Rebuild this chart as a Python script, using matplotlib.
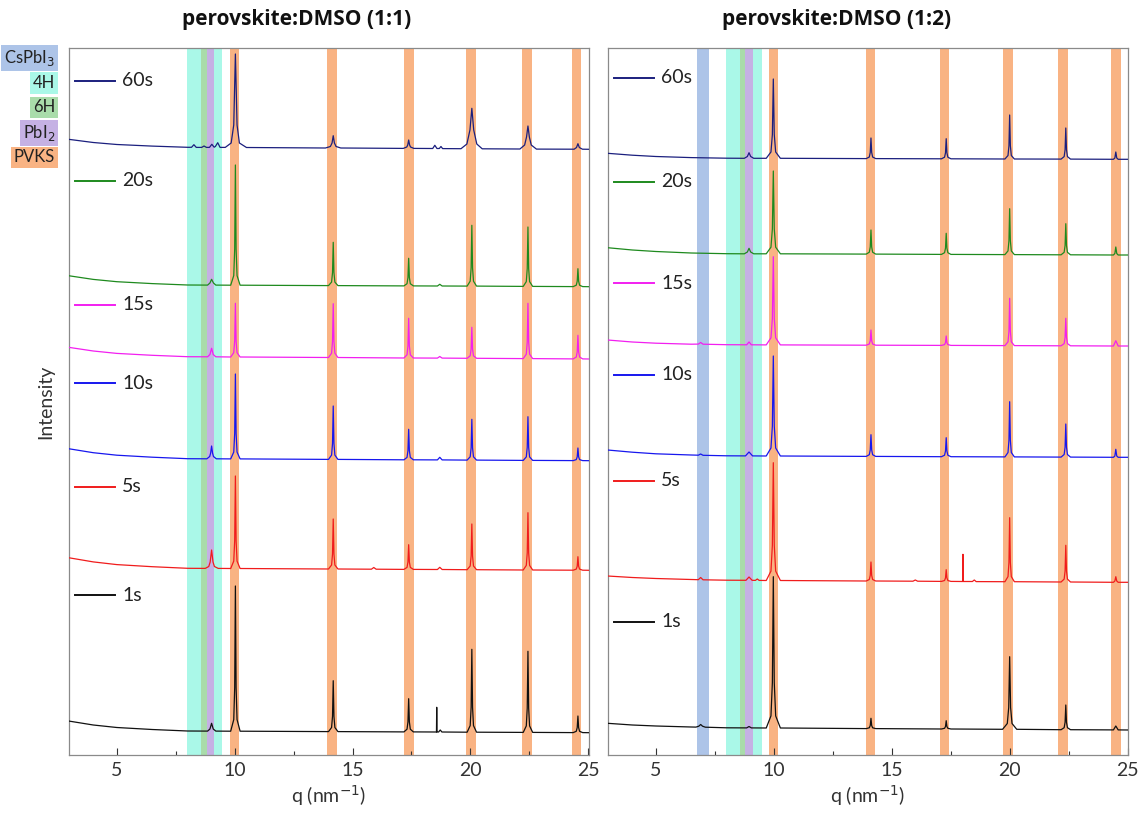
import matplotlib
matplotlib.use("Agg")
import matplotlib.pyplot as plt
import matplotlib.transforms as mtransforms

plt.rcParams['font.family'] = ['Lato', 'DejaVu Sans']

# ---------------- data (q in nm^-1, intensity in arbitrary units) ----------------
times = ["60s", "20s", "15s", "10s", "5s", "1s"]
colors = ["#1b1f7e", "#1e8a1e", "#f21ff0", "#1717ee", "#f01c1c", "#111111"]

# perovskite:DMSO (1:1)
left_60s = [(2.95,615.7),(4,612.5),(5,610.5),(6.5,608.9),(8.0,607.7),
    (8.17,607.7),(8.27,610.3),(8.37,607.6),(8.6,607.6),(8.7,609),(8.8,607.6),
    (8.93,607.6),(9.03,610.7),(9.13,607.8),(9.18,608.5),(9.28,612.3),(9.38,607.6),
    (9.6,607.6),(9.85,612),(9.96,630),(10.03,701),(10.10,630),(10.2,612),(10.5,607.5),
    (13.85,607),(14.06,608.5),(14.13,612),(14.18,619.3),(14.23,612),(14.3,608.5),(14.5,607),
    (17.15,606.6),(17.3,608),(17.34,610),(17.38,615),(17.42,610),(17.46,608),(17.6,606.6),
    (18.4,606.5),(18.49,609.7),(18.58,606.5),(18.68,606.5),(18.75,608.5),(18.82,606.4),
    (19.6,606.3),(19.85,611),(19.98,625),(20.06,646.7),(20.14,625),(20.27,611),(20.5,606.2),
    (22.1,606),(22.3,610),(22.38,618),(22.44,629),(22.5,618),(22.58,610),(22.8,605.9),
    (24.4,605.8),(24.5,607.5),(24.56,611.3),(24.62,607.5),(24.75,605.8),(25.05,605.7)]
left_20s = [(2.95,479.3),(4,475.6),(5,473.3),(6.5,471.4),(8.0,470),
    (8.85,469.9),(8.95,472),(9.02,475.7),(9.1,472),(9.2,469.9),
    (9.83,469.8),(9.96,479.4),(10.0,505.9),(10.03,590),(10.06,505.9),(10.1,479.4),(10.23,469.8),
    (13.98,469.4),(14.11,472.9),(14.15,482.4),(14.18,512.7),(14.21,482.4),(14.25,472.9),(14.38,469.4),
    (17.18,469.1),(17.31,471.3),(17.35,477.4),(17.38,496.7),(17.41,477.4),(17.45,471.3),(17.58,469.1),
    (18.6,469),(18.7,470.7),(18.8,469),
    (19.86,468.9),(19.99,473.8),(20.03,487.1),(20.06,529.7),(20.09,487.1),(20.13,473.8),(20.26,468.9),
    (22.24,468.6),(22.37,473.4),(22.41,486.4),(22.44,528),(22.47,486.4),(22.51,473.4),(22.64,468.6),
    (24.36,468.4),(24.49,469.8),(24.53,473.8),(24.56,486.3),(24.59,473.8),(24.63,469.8),(24.76,468.4),
    (25.05,468.3)]
left_15s = [(2.95,407.7),(4,404),(5,401.6),(6.5,399.7),(8.0,398.3),
    (8.85,398.2),(8.95,400.5),(9.02,406.7),(9.09,400.5),(9.2,398.2),
    (9.83,398),(9.96,402.3),(10.0,414.1),(10.03,451.7),(10.06,414.1),(10.1,402.3),(10.23,398),
    (13.98,397.5),(14.11,401.8),(14.15,413.6),(14.18,451.3),(14.21,413.6),(14.25,401.8),(14.38,397.5),
    (17.18,397),(17.31,400.2),(17.35,408.9),(17.38,436.7),(17.41,408.9),(17.45,400.2),(17.58,397),
    (18.6,396.9),(18.7,398.5),(18.8,396.9),
    (19.86,396.7),(19.99,399.2),(20.03,406),(20.06,427.7),(20.09,406),(20.13,399.2),(20.26,396.7),
    (22.24,396.4),(22.37,400.8),(22.41,413),(22.44,451.7),(22.47,413),(22.51,400.8),(22.64,396.4),
    (24.36,396.1),(24.49,398),(24.53,403.2),(24.56,419.7),(24.59,403.2),(24.63,398),(24.76,396.1),
    (25.05,396)]
left_10s = [(2.95,306.3),(4,302.3),(5,299.8),(6.5,297.8),(8.0,296.3),
    (8.82,296.2),(8.94,298.5),(8.98,302),(9.02,309),(9.06,302),(9.1,298.5),(9.22,296.2),
    (9.83,296.1),(9.96,302.9),(10.0,321.6),(10.03,381),(10.06,321.6),(10.1,302.9),(10.23,296.1),
    (13.98,295.6),(14.11,299.9),(14.15,311.6),(14.18,349),(14.21,311.6),(14.25,299.9),(14.38,295.6),
    (17.18,295.2),(17.31,297.6),(17.35,304.4),(17.38,325.7),(17.41,304.4),(17.45,297.6),(17.58,295.2),
    (18.6,295.1),(18.7,297.7),(18.8,295.1),
    (19.86,294.9),(19.99,298.2),(20.03,307.1),(20.06,335.7),(20.09,307.1),(20.13,298.2),(20.26,294.9),
    (22.24,294.6),(22.37,298.1),(22.41,307.7),(22.44,338.3),(22.47,307.7),(22.51,298.1),(22.64,294.6),
    (24.36,294.4),(24.49,295.4),(24.53,298.2),(24.56,307),(24.59,298.2),(24.63,295.4),(24.76,294.4),
    (25.05,294.3)]
left_5s = [(2.95,197.3),(4,193.1),(5,190.4),(6.5,188.3),(8.0,186.7),
    (8.75,186.6),(8.9,188.5),(8.96,193),(9.02,205),(9.08,193),(9.14,188.5),(9.3,186.6),
    (9.83,186.5),(9.96,193.9),(10.0,214.3),(10.03,279),(10.06,214.3),(10.1,193.9),(10.23,186.5),
    (13.98,186),(14.11,190),(14.15,201),(14.18,236),(14.21,201),(14.25,190),(14.38,186),
    (15.8,185.8),(15.9,187.5),(16.0,185.8),
    (17.18,185.6),(17.31,187.6),(17.35,193),(17.38,210.3),(17.41,193),(17.45,187.6),(17.58,185.6),
    (18.6,185.5),(18.7,187.7),(18.8,185.5),
    (19.86,185.3),(19.99,189),(20.03,199),(20.06,231),(20.09,199),(20.13,189),(20.26,185.3),
    (22.24,185),(22.37,189.6),(22.41,202.2),(22.44,242.3),(22.47,202.2),(22.51,189.6),(22.64,185),
    (24.36,184.8),(24.49,185.9),(24.53,188.8),(24.56,198.3),(24.59,188.8),(24.63,185.9),(24.76,184.8),
    (25.05,184.7)]
left_1s = [(2.95,34),(4,30),(5,27.5),(6.5,25.5),(8.0,24),
    (8.85,23.9),(8.95,26),(9.02,31.7),(9.09,26),(9.2,23.9),
    (9.83,23.8),(9.96,35.4),(10.0,67.4),(10.03,169),(10.06,67.4),(10.1,35.4),(10.23,23.8),
    (13.98,23.4),(14.11,27.5),(14.15,38.7),(14.18,74.3),(14.21,38.7),(14.25,27.5),(14.38,23.4),
    (17.18,23.1),(17.31,25.8),(17.35,33.1),(17.38,56.3),(17.41,33.1),(17.45,25.8),(17.58,23.1),
    (18.56,23),(18.57,47.7),(18.58,23),(18.65,23),(18.72,25),(18.79,23),
    (19.86,22.8),(19.99,29.4),(20.03,47.7),(20.06,105.7),(20.09,47.7),(20.13,29.4),(20.26,22.8),
    (22.24,22.6),(22.37,29.1),(22.41,46.9),(22.44,103.7),(22.47,46.9),(22.51,29.1),(22.64,22.6),
    (24.36,22.4),(24.49,23.7),(24.53,27.4),(24.56,39),(24.59,27.4),(24.63,23.7),(24.76,22.4),
    (25.05,22.3)]

# perovskite:DMSO (1:2)
right_60s = [(2.95,601.7),(4,599.8),(5,598.5),(6.5,597.4),(8.0,596.8),
    (8.75,596.7),(8.88,598.5),(8.95,602.3),(9.02,598.5),(9.15,596.7),
    (9.68,596.7),(9.88,603),(9.94,620.5),(9.98,676),(10.02,620.5),(10.08,603),(10.28,596.7),
    (13.92,596.4),(14.05,598),(14.09,602.6),(14.12,617),(14.15,602.6),(14.19,598),(14.32,596.4),
    (17.11,596.2),(17.24,597.8),(17.28,602.2),(17.31,616.3),(17.34,602.2),(17.38,597.8),(17.51,596.2),
    (19.8,596),(19.93,599.5),(19.97,609.2),(20.0,640),(20.03,609.2),(20.07,599.5),(20.2,596),
    (22.18,595.9),(22.31,598.4),(22.35,605.2),(22.38,627),(22.41,605.2),(22.45,598.4),(22.58,595.9),
    (24.4,595.7),(24.46,597),(24.5,603),(24.54,597),(24.6,595.7),(25.05,595.7)]
right_20s = [(2.95,507.3),(4,505),(5,503.5),(6.5,502),(8.0,501.3),
    (8.75,501.2),(8.88,503),(8.95,506.7),(9.02,503),(9.15,501.2),
    (9.68,501.2),(9.88,507.8),(9.94,526),(9.98,584),(10.02,526),(10.08,507.8),(10.28,501.2),
    (13.92,500.9),(14.05,502.8),(14.09,508.1),(14.12,525),(14.15,508.1),(14.19,502.8),(14.32,500.9),
    (17.11,500.6),(17.24,502.3),(17.28,506.9),(17.31,521.7),(17.34,506.9),(17.38,502.3),(17.51,500.6),
    (19.8,500.4),(19.93,504.1),(19.97,514.2),(20.0,546.3),(20.03,514.2),(20.07,504.1),(20.2,500.4),
    (22.18,500.2),(22.31,502.7),(22.35,509.5),(22.38,531.3),(22.41,509.5),(22.45,502.7),(22.58,500.2),
    (24.4,500),(24.46,501.5),(24.5,508),(24.54,501.5),(24.6,500),(25.05,500)]
right_15s = [(2.95,415),(4,413),(5,411.8),(6.5,410.8),
    (6.8,410.9),(6.9,412.5),(7.0,410.8),(8.0,410.3),
    (8.85,410.2),(8.95,413),(9.05,410.2),
    (9.68,410.1),(9.88,417.2),(9.94,436.6),(9.98,498.3),(10.02,436.6),(10.08,417.2),(10.28,410.1),
    (13.92,409.8),(14.05,411),(14.09,414.4),(14.12,425),(14.15,414.4),(14.19,411),(14.32,409.8),
    (17.11,409.6),(17.24,410.4),(17.28,412.4),(17.31,419),(17.34,412.4),(17.38,410.4),(17.51,409.6),
    (19.8,409.4),(19.93,413.2),(19.97,423.6),(20.0,456.7),(20.03,423.6),(20.07,413.2),(20.2,409.4),
    (22.18,409.2),(22.31,411.4),(22.35,417.5),(22.38,436.7),(22.41,417.5),(22.45,411.4),(22.58,409.2),
    (24.4,409),(24.5,414.3),(24.6,409),(25.05,409)]
right_10s = [(2.95,305),(4,302.8),(5,301.2),(6.5,300),
    (6.8,299.8),(6.9,301),(7.0,299.7),(8.0,299.2),
    (8.8,299.1),(8.95,303),(9.1,299.1),
    (9.68,299),(9.88,307),(9.94,329),(9.98,399),(10.02,329),(10.08,307),(10.28,299),
    (13.92,298.6),(14.05,300.3),(14.09,305.1),(14.12,320.3),(14.15,305.1),(14.19,300.3),(14.32,298.6),
    (17.11,298.3),(17.24,299.8),(17.28,304),(17.31,317.3),(17.34,304),(17.38,299.8),(17.51,298.3),
    (19.8,298.1),(19.93,302.5),(19.97,314.7),(20.0,353.3),(20.03,314.7),(20.07,302.5),(20.2,298.1),
    (22.18,297.9),(22.31,300.5),(22.35,307.8),(22.38,331),(22.41,307.8),(22.45,300.5),(22.58,297.9),
    (24.4,297.7),(24.46,299),(24.5,305.7),(24.54,299),(24.6,297.7),(25.05,297.7)]
right_5s = [(2.95,179),(4,177.5),(5,176.5),(6.5,175.5),
    (6.8,175.3),(6.9,177.5),(7.0,175.2),(8.0,174.8),
    (8.82,174.7),(8.95,178),(9.08,174.7),(9.22,174.6),(9.3,176),(9.38,174.6),
    (9.68,174.5),(9.88,183.9),(9.94,209.8),(9.98,292.3),(10.02,209.8),(10.08,183.9),(10.28,174.5),
    (13.92,174),(14.05,175.5),(14.09,179.7),(14.12,193),(14.15,179.7),(14.19,175.5),(14.32,174),
    (15.9,173.8),(16.0,175),(16.1,173.8),
    (17.11,173.6),(17.24,174.5),(17.28,177.1),(17.31,185.3),(17.34,177.1),(17.38,174.5),(17.51,173.6),
    (18.01,173.5),(18.02,200.7),(18.03,173.5),(18.42,173.5),(18.5,175),(18.58,173.4),
    (19.8,173.3),(19.93,178.4),(19.97,192.5),(20.0,237.3),(20.03,192.5),(20.07,178.4),(20.2,173.3),
    (22.18,173),(22.31,175.9),(22.35,184),(22.38,209.7),(22.41,184),(22.45,175.9),(22.58,173),
    (24.4,172.7),(24.46,174),(24.5,178.3),(24.54,174),(24.6,172.7),(25.05,172.7)]
right_1s = [(2.95,31.7),(4,30),(5,29),(6.5,28),
    (6.7,27.9),(6.82,28.8),(6.9,30.5),(6.98,28.8),(7.1,27.8),(8.0,27.2),
    (8.85,27.1),(8.95,28.5),(9.05,27.1),
    (9.68,27),(9.88,39.1),(9.94,72.4),(9.98,178.3),(10.02,72.4),(10.08,39.1),(10.28,27),
    (13.92,26.4),(14.05,27.2),(14.09,29.5),(14.12,36.7),(14.15,29.5),(14.19,27.2),(14.32,26.4),
    (17.11,26),(17.24,26.7),(17.28,28.5),(17.31,34.3),(17.34,28.5),(17.38,26.7),(17.51,26),
    (19.7,25.7),(19.9,31.5),(19.96,47.5),(20.0,98.3),(20.04,47.5),(20.1,31.5),(20.3,25.7),
    (22.18,25.3),(22.31,27.3),(22.35,32.7),(22.38,50),(22.41,32.7),(22.45,27.3),(22.58,25.3),
    (24.4,25.1),(24.5,29),(24.6,25.1),(25.05,25)]

# phase bands (q ranges)
band_names = ["CsPbI$_3$", "4H", "6H", "PbI$_2$", "PVKS"]
band_colors = ["#adc4e8", "#aaf8e8", "#a9dcaa", "#c5b1e4", "#f9b383"]
left_bands = [("4H", 7.96, 9.48), ("6H", 8.56, 8.81), ("PbI$_2$", 8.81, 9.14),
              ("PVKS", 9.80, 10.20), ("PVKS", 13.93, 14.35), ("PVKS", 17.19, 17.59),
              ("PVKS", 19.82, 20.22), ("PVKS", 22.19, 22.61), ("PVKS", 24.30, 24.71)]
right_bands = [("CsPbI$_3$", 6.73, 7.25), ("4H", 7.97, 9.48), ("6H", 8.56, 8.80),
               ("PbI$_2$", 8.80, 9.12),
               ("PVKS", 9.78, 10.19), ("PVKS", 13.89, 14.30), ("PVKS", 17.03, 17.44),
               ("PVKS", 19.73, 20.14), ("PVKS", 22.05, 22.47), ("PVKS", 24.28, 24.70)]

titles = ["perovskite:DMSO (1:1)", "perovskite:DMSO (1:2)"]
xticks = [5, 10, 15, 20, 25]

# ---------------- layout ----------------
W, H = 1146, 814
fig = plt.figure(figsize=(W / 100, H / 100), dpi=100)
ax1 = fig.add_axes([68.5 / W, 59 / H, 520.5 / W, 707 / H])
ax2 = fig.add_axes([607.5 / W, 59 / H, 520.8 / W, 707 / H])

label_y = {0: [674.3, 574.3, 450, 371.7, 268.3, 159.7],
           1: [677.3, 573.3, 471.7, 380, 274.3, 133.3]}

bcol = dict(zip(band_names, band_colors))
panels = [(ax1, [left_60s, left_20s, left_15s, left_10s, left_5s, left_1s], left_bands),
          (ax2, [right_60s, right_20s, right_15s, right_10s, right_5s, right_1s], right_bands)]

for i, (ax, curves, bands) in enumerate(panels):
    for name, a, b in bands:
        ax.axvspan(a, b, color=bcol[name], lw=0, zorder=0)
    for c, col in zip(curves, colors):
        qs = [p[0] for p in c]
        ys = [p[1] for p in c]
        ax.plot(qs, ys, color=col, lw=0.9, zorder=3)
    trans = mtransforms.blended_transform_factory(ax.transAxes, ax.transData)
    for t, col, yy in zip(times, colors, label_y[i]):
        ax.plot([0.0125, 0.089], [yy, yy], color=col, lw=1.4, transform=trans, clip_on=False)
        ax.text(0.103, yy, t, color="#222222", fontsize=14, va="center", ha="left",
                transform=trans)
    ax.set_xlim(2.95, 25.03)
    ax.set_ylim(0, 707)
    ax.set_yticks([])
    ax.set_xticks(xticks)
    ax.set_xticks([7.5, 12.5, 17.5, 22.5], minor=True)
    ax.tick_params(axis="x", which="major", direction="in", length=5, width=0.8,
                   labelsize=14, colors="#333333", pad=5)
    ax.tick_params(axis="x", which="minor", direction="in", length=3, width=0.8, colors="#333333")
    for s in ax.spines.values():
        s.set_color("#8a8a8a")
        s.set_linewidth(0.9)
    ax.set_xlabel("q (nm$^{-1}$)", fontsize=14, color="#333333", labelpad=3)

ax1.set_ylabel("Intensity", fontsize=14, color="#333333", labelpad=10)

fig.text(297 / W, 1 - 19 / H, titles[0], ha="center", va="center", fontsize=15,
         fontweight="bold", family=["Open Sans", "DejaVu Sans"], color="#111111")
fig.text(837 / W, 1 - 19 / H, titles[1], ha="center", va="center", fontsize=15,
         fontweight="bold", family=["Open Sans", "DejaVu Sans"], color="#111111")

# phase legend (top-left)
legend_y = [58, 83, 107.5, 133, 157.5]
for name, col, yy in zip(band_names, band_colors, legend_y):
    fig.text(55 / W, 1 - yy / H, name, ha="right", va="center", fontsize=12, color="#222222",
             bbox=dict(boxstyle="square,pad=0.17", facecolor=col, edgecolor="none"))

fig.savefig("out.png", dpi=100)
